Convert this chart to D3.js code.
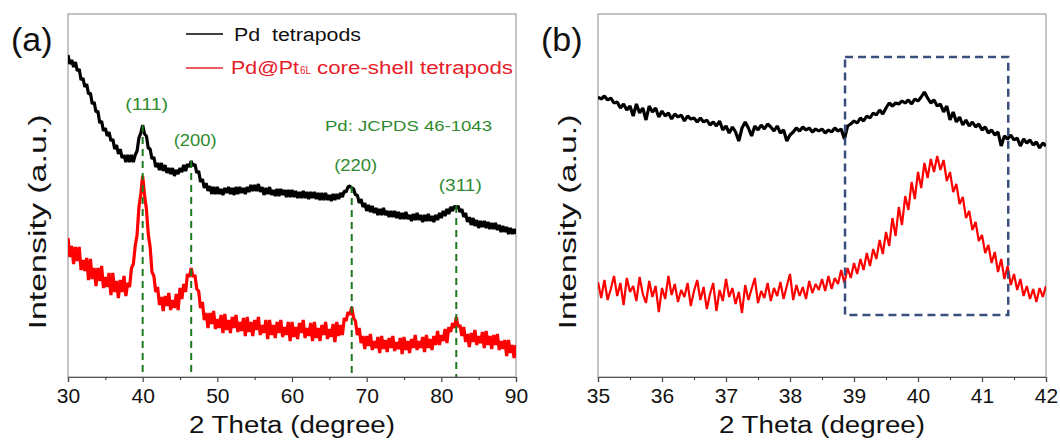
<!DOCTYPE html>
<html><head><meta charset="utf-8">
<script src="https://cdn.jsdelivr.net/npm/d3@7"></script>
<style>
body{margin:0;background:#fff}
svg{display:block}
text{font-family:"Liberation Sans",Arial,Helvetica,sans-serif}
</style>
</head><body>
<svg id="c" width="1060" height="441"></svg>
<script>
// ---------- DATA ----------
// Panel (a): 2-theta from 30 to 90, step 0.25 degree
const startA = 30, stepA = 0.25;
const blackA = [322,313,317,310,315,306,308,297,299,290,293,283,284,273,275,265,266,254,256,246,
249,241,245,236,238,228,232,223,228,219,222,215,222,215,222,215,222,226,239,244,
252,243,241,229,228,218,220,210,214,207,214,206,212,204,209,203,209,201,207,203,
209,205,212,206,213,210,216,211,213,204,206,195,198,189,194,186,191,183,190,183,
190,183,188,182,189,184,190,183,189,182,190,183,190,184,189,183,190,185,192,186,
192,186,193,185,190,182,189,183,190,182,187,181,188,181,188,182,187,180,187,180,
187,180,186,179,185,179,186,179,185,178,185,179,185,178,184,177,184,177,184,177,
182,176,183,177,183,178,184,180,186,185,190,191,189,188,182,182,174,178,170,174,
166,172,165,171,164,169,162,168,162,169,162,166,160,166,160,166,159,165,158,164,
158,165,158,162,156,163,157,164,157,162,155,162,156,163,156,161,155,162,157,164,
159,166,161,168,163,170,166,171,169,171,165,168,160,164,155,160,152,159,151,157,
149,156,150,156,149,155,148,154,148,154,147,152,145,151,145,150,143,149,143,148,
143];
const redA = [139,120,131,113,130,116,130,107,117,106,119,97,118,98,109,91,109,96,111,89,
100,90,104,82,104,85,96,79,97,85,101,81,94,90,
109,113,131,142,170,183,201,182,168,143,130,105,101,85,
90,72,80,66,81,71,84,67,77,69,83,67,89,78,93,85,
103,100,109,100,102,88,86,69,
75,57,64,49,64,53,66,48,58,49,62,44,63,47,57,44,60,49,62,45,55,46,59,41,
60,45,55,41,57,47,60,42,52,44,57,38,57,42,52,39,55,44,57,40,50,42,55,36,
55,40,50,38,54,44,57,39,49,41,54,36,55,39,49,36,52,42,55,38,48,40,53,35,
55,41,52,42,
59,56,65,62,70,59,56,42,
49,34,41,28,41,31,43,27,36,29,40,24,41,28,37,25,39,29,41,26,35,28,39,23,
40,27,36,24,38,29,42,27,36,29,40,25,42,29,38,27,41,32,46,32,42,36,48,34,
50,45,54,49,60,50,52,41,
50,35,43,30,44,35,47,32,41,34,45,29,46,32,41,28,42,32,43,27,36,28,37,21,
37,24,32,19,32];

// Panel (b): 2-theta from 35 to 42, step 0.05 degree
const startB = 35, stepB = 0.05;
const blackB = [280,278,281,277,279,274,275,269,273,267,271,261,273,264,269,257,271,265,269,260,
266,261,264,258,263,260,262,256,261,258,259,255,259,255,257,252,255,251,256,247,
251,244,250,245,236,249,255,249,241,251,247,252,248,253,250,246,251,244,247,236,
242,245,249,246,250,247,249,245,248,246,248,244,247,245,249,246,248,238,251,253,
256,254,259,256,261,259,264,262,267,263,269,274,271,274,273,276,274,277,273,278,
276,280,285,279,274,277,271,273,265,271,257,265,255,260,252,257,251,255,250,253,
247,250,244,247,242,245,231,241,238,242,237,239,231,238,234,237,232,235,229,234,
231];
const redB = [95,79,97,77,88,101,81,94,72,99,85,91,76,100,83,74,96,80,91,65,
89,78,101,82,93,75,87,80,94,71,86,97,77,90,68,83,94,66,87,76,
98,80,89,73,85,64,92,77,88,99,74,86,79,94,76,89,81,95,78,91,
103,77,92,81,90,78,96,84,93,87,98,86,101,88,99,93,107,94,109,99,
114,103,118,107,124,111,128,118,137,123,145,131,159,141,170,152,181,167,195,178,
205,189,214,199,218,205,221,207,217,196,205,185,193,173,180,159,166,147,155,136,
142,124,132,114,125,105,118,98,111,92,103,87,98,81,91,78,88,75,89,80,
91];

const ticksA = [30,40,50,60,70,80,90];
const minorA = [35,45,55,65,75,85];
const ticksB = [35,36,37,38,39,40,41,42];
const minorB = [35.5,36.5,37.5,38.5,39.5,40.5,41.5];
const peakPos = [40.0, 46.5, 68.0, 82.0];
const peakLabels = ["(111)", "(200)", "(220)", "(311)"];
const boxX = [38.86, 41.41];
const boxY = [62, 320];
const seriesNames = ["Pd  tetrapods", "Pd@Pt", "6L", "core-shell tetrapods"];
const refCard = "Pd: JCPDS 46-1043";

// ---------- DRAW ----------
const svg = d3.select("#c");
const yTop = 14, yBot = 377;
const yDomain = [0, 363];
const green = "#2f8a2f", dashGreen = "#1f7a1f";

function panel(cfg) {
  const x = d3.scaleLinear().domain(cfg.domain).range([cfg.x0, cfg.x1]);
  const y = d3.scaleLinear().domain(yDomain).range([yBot, yTop]);
  const g = svg.append("g");
  const clipId = "clip" + cfg.id;
  svg.append("clipPath").attr("id", clipId).append("rect")
    .attr("x", cfg.x0).attr("y", yTop).attr("width", cfg.x1 - cfg.x0).attr("height", yBot - yTop);

  g.append("rect").attr("x", cfg.x0).attr("y", yTop)
    .attr("width", cfg.x1 - cfg.x0).attr("height", yBot - yTop)
    .attr("fill", "none").attr("stroke", "#a6a6a6").attr("stroke-width", 1.3);

  const ax = g.append("g").attr("transform", `translate(0,${yBot})`)
    .call(d3.axisBottom(x).tickValues(cfg.ticks).tickSize(5).tickPadding(6).tickFormat(d3.format("d")));
  ax.select(".domain").attr("stroke", "#555").attr("stroke-width", 1.2);
  ax.selectAll(".tick line").attr("stroke", "#444").attr("stroke-width", 1.2);
  ax.selectAll(".tick text").attr("font-size", 21).attr("fill", "#111")
    .attr("font-family", '"Liberation Sans",Arial,sans-serif');
  const mx = g.append("g").attr("transform", `translate(0,${yBot})`)
    .call(d3.axisBottom(x).tickValues(cfg.minor).tickSize(3).tickFormat(""));
  mx.select(".domain").remove();
  mx.selectAll(".tick line").attr("stroke", "#444").attr("stroke-width", 1.2);

  const cx = (cfg.x0 + cfg.x1) / 2;
  g.append("text").attr("x", cx).attr("y", 433).attr("text-anchor", "middle")
    .attr("font-size", 23).attr("fill", "#111")
    .attr("textLength", 206).attr("lengthAdjust", "spacingAndGlyphs")
    .text("2 Theta (degree)");
  g.append("text").attr("transform", `translate(${cfg.x0 - 22},222) rotate(-90)`)
    .attr("text-anchor", "middle").attr("font-size", 23).attr("fill", "#111")
    .attr("textLength", 215).attr("lengthAdjust", "spacingAndGlyphs")
    .text("Intensity (a.u.)");
  g.append("text").attr("x", cfg.x0 - 57).attr("y", 51)
    .attr("font-size", 34).attr("fill", "#111").text(cfg.tag);

  const line = d3.line().x((d, i) => x(cfg.start + i * cfg.step)).y(d => y(d));
  const curves = g.append("g").attr("clip-path", `url(#${clipId})`);
  curves.append("path").datum(cfg.red).attr("d", line)
    .attr("fill", "none").attr("stroke", "#ff0000").attr("stroke-width", cfg.redW)
    .attr("stroke-linejoin", "bevel");
  curves.append("path").datum(cfg.black).attr("d", line)
    .attr("fill", "none").attr("stroke", "#000").attr("stroke-width", cfg.blackW)
    .attr("stroke-linejoin", "bevel");
  return {x, y, g};
}

const A = panel({id: "a", tag: "(a)", domain: [30, 90], x0: 68, x1: 516,
  ticks: ticksA, minor: minorA, start: startA, step: stepA,
  black: blackA, red: redA, blackW: 3.2, redW: 3.2});

peakPos.forEach((p, k) => {
  const idx = Math.round((p - startA) / stepA);
  const vTop = d3.max(blackA.slice(Math.max(0, idx - 1), idx + 2));
  A.g.append("line").attr("x1", A.x(p)).attr("x2", A.x(p))
    .attr("y1", A.y(vTop)).attr("y2", yBot)
    .attr("stroke", dashGreen).attr("stroke-width", 2).attr("stroke-dasharray", "7,5");
  A.g.append("text").attr("x", A.x(p) + 4).attr("y", A.y(vTop) - 15)
    .attr("text-anchor", "middle").attr("font-size", 16).attr("fill", green)
    .attr("textLength", 43).attr("lengthAdjust", "spacingAndGlyphs")
    .text(peakLabels[k]);
});
A.g.append("text").attr("x", 325).attr("y", 131).attr("font-size", 15).attr("fill", green)
  .attr("textLength", 167).attr("lengthAdjust", "spacingAndGlyphs").text(refCard);

A.g.append("line").attr("x1", 186).attr("x2", 223).attr("y1", 34).attr("y2", 34)
  .attr("stroke", "#000").attr("stroke-width", 1.6);
A.g.append("text").attr("x", 234).attr("y", 40.5).attr("font-size", 18).attr("fill", "#111")
  .attr("textLength", 127).attr("lengthAdjust", "spacingAndGlyphs")
  .style("white-space", "pre").text(seriesNames[0]);
A.g.append("line").attr("x1", 186).attr("x2", 223).attr("y1", 68).attr("y2", 68)
  .attr("stroke", "#e8202a").attr("stroke-width", 1.6);
A.g.append("text").attr("x", 231).attr("y", 74).attr("font-size", 18).attr("fill", "#e8202a")
  .attr("textLength", 68).attr("lengthAdjust", "spacingAndGlyphs").text(seriesNames[1]);
A.g.append("text").attr("x", 300).attr("y", 74).attr("font-size", 10).attr("fill", "#e8202a")
  .attr("textLength", 11).attr("lengthAdjust", "spacingAndGlyphs").text(seriesNames[2]);
A.g.append("text").attr("x", 317).attr("y", 74).attr("font-size", 18).attr("fill", "#e8202a")
  .attr("textLength", 196).attr("lengthAdjust", "spacingAndGlyphs").text(seriesNames[3]);

const B = panel({id: "b", tag: "(b)", domain: [35, 42], x0: 598, x1: 1046,
  ticks: ticksB, minor: minorB, start: startB, step: stepB,
  black: blackB, red: redB, blackW: 3.2, redW: 2.2});
B.g.append("rect").attr("x", B.x(boxX[0])).attr("y", B.y(boxY[1]))
  .attr("width", B.x(boxX[1]) - B.x(boxX[0])).attr("height", B.y(boxY[0]) - B.y(boxY[1]))
  .attr("fill", "none").attr("stroke", "#3b4f7c").attr("stroke-width", 2.5)
  .attr("stroke-dasharray", "8,5");
</script>
</body></html>
